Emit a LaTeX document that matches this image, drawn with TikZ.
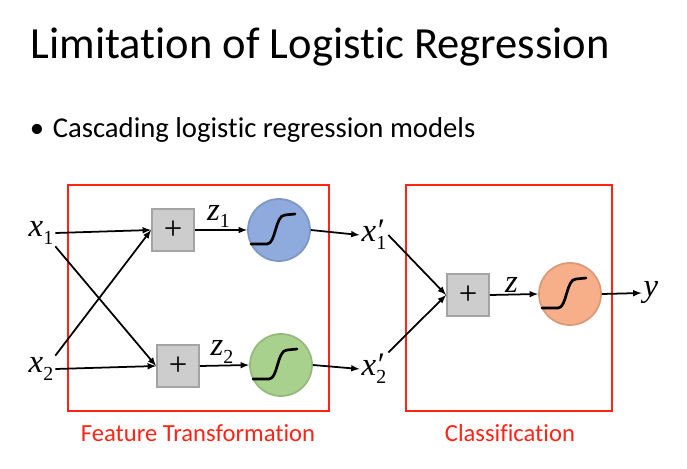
\documentclass[tikz,border=0pt]{standalone}
\usepackage{fontspec}
\setmainfont{Carlito}[Ligatures={NoCommon}]
\newfontfamily\varfont{Liberation Serif}
\usetikzlibrary{positioning}
\definecolor{boxred}{HTML}{FF2415}
\definecolor{sigblue}{HTML}{8FAADC}
\definecolor{siggreen}{HTML}{A9D18E}
\definecolor{sigorange}{HTML}{F7AF8A}
\definecolor{addgray}{HTML}{CDCDCD}
\newcommand\subfnt{\varfont\fontsize{17}{20}\selectfont}
\newcommand\vsub[2]{\textit{#1}\raisebox{-0.5ex}{\subfnt #2}}
\newcommand\vsubp[2]{\textit{#1}\rlap{\hspace{0.05em}\char"2032}\raisebox{-0.5ex}{\subfnt #2}}
\tikzset{
sigm/.pic={
  \draw[line width=2.3pt, line cap=round]
    (-28,14) -- (-12,14) .. controls (-3,14) and (-4,-15) .. (6,-15) -- (16,-16);
  },
adder/.style={
  draw=addgray!80!black,
  fill=addgray,
  minimum size=1.26cm,
  inner sep=0pt,
  font=\varfont\fontsize{28}{30}\selectfont
  },
unit/.style={
  circle,
  draw=#1!88!black,
  fill=#1,
  minimum size=1.86cm,
  inner sep=0pt
  },
lbl/.style={font=\varfont\fontsize{28}{32}\selectfont, inner sep=1pt},
redbox/.style={draw=boxred, line width=2pt},
capt/.style={text=boxred, font=\fontsize{21}{25}\selectfont}
}

\begin{document}
\begin{tikzpicture}[x=0.03cm, y=-0.03cm, >=latex, line width=1.5pt]
\useasboundingbox (0,0) rectangle (687,469);
% the texts
\node[anchor=base west, inner sep=0pt, font=\fontsize{38}{44}\selectfont]
  at (30,58) (title) {Limitation of Logistic Regression};
\node[anchor=base west, inner sep=0pt, font=\fontsize{24.5}{30}\selectfont]
  at (29,137) (item) {\textbullet\hspace{0.3em}Cascading logistic regression models};

% the shapes
\draw[redbox] (68,185) rectangle (329,411);
\draw[redbox] (406,185) rectangle (612,411);
\node[capt] at (198,433) (feat) {Feature Transformation};
\node[capt] at (510,433) (cls) {Classification};

\node[adder] at (173,230) (p1) {+};
\node[adder] at (178,366) (p2) {+};
\node[adder] at (468,295) (p3) {+};
\node[unit=sigblue] at (279,230) (s1) {};
\node[unit=siggreen] at (281,365) (s2) {};
\node[unit=sigorange] at (570,294) (s3) {};
\path
  (s1) pic {sigm}
  (s2) pic {sigm}
  (s3) pic {sigm};

\node[lbl] at (41,233) (x1) {\vsub{x}{1}};
\node[lbl] at (41,369) (x2) {\vsub{x}{2}};
\node[lbl] at (374,235) (x1p) {\vsubp{x}{1}};
\node[lbl] at (374,369) (x2p) {\vsubp{x}{2}};
\node[lbl] at (651,293) (y) {\textit{y}};

%the arrows
\draw[->] (x1.east) -- (p1.west);
\draw[->] (x2.east) -- (p2.west);
\draw[->] (x1.south east) -- (p2.west);
\draw[->] (x2.north east) -- (p1.west);
\draw[->] (p1.east) -- node[lbl, above, pos=0.45] (z1) {\vsub{z}{1}} (s1.west);
\draw[->] (p2.east) -- node[lbl, above, pos=0.45] (z2) {\vsub{z}{2}} (s2.west);
\draw[->] (s1.east) -- (x1p.west);
\draw[->] (s2.east) -- (x2p.west);
\draw[->] (x1p.east) -- (p3.west);
\draw[->] (x2p.north east) -- (p3.west);
\draw[->] (p3.east) -- node[lbl, above, pos=0.45] (z) {\textit{z}} (s3.west);
\draw[->] (s3.east) -- (y.west);
\end{tikzpicture}
\end{document}
